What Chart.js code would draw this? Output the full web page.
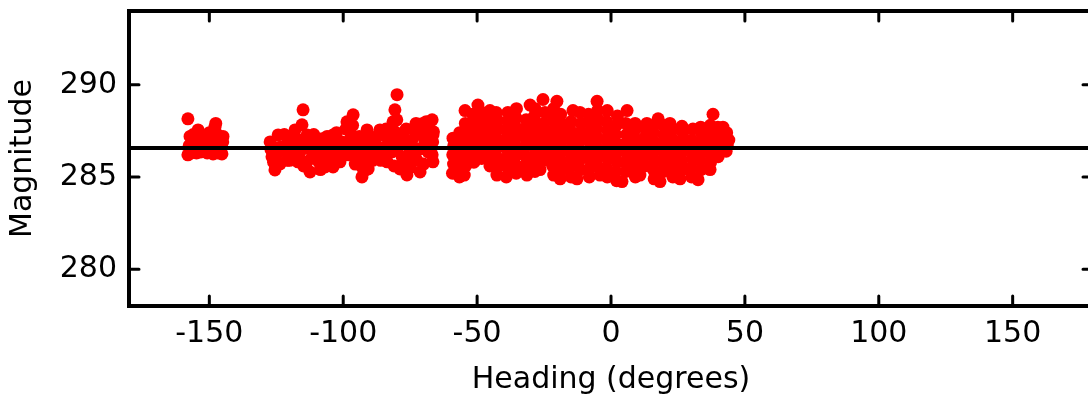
<!DOCTYPE html>
<html>
<head>
<meta charset="utf-8">
<script src="https://cdn.jsdelivr.net/npm/chart.js@4/dist/chart.umd.min.js"></script>
<style>
html,body{margin:0;padding:0;overflow:hidden;background:#fff;width:1088px;height:403px}
#wrap{position:absolute;left:0;top:0;width:1100px;height:403px}
</style>
</head>
<body>
<div id="wrap"><canvas id="c" width="1100" height="403"></canvas></div>
<script>
// ---- data ----
const headingTicks = [-150, -100, -50, 0, 50, 100, 150];
const magnitudeTicks = [280, 285, 290];
const meanMagnitude = 286.57;

// cluster near -150 deg
const headingsA = [-158.0,-157.2,-158.0,-154.2,-153.5,-150.9,-148.6,-147.9,-144.9,-145.3,-155.3,-149.7,-146.0,-147.6,-152.0,-156.0,
  -157.5,-156.0,-154.5,-153.0,-151.5,-150.0,-148.5,-147.0,-145.5,-156.8,-154.8,-152.8,-150.8,-148.8,-146.8,-145.0];
const magnitudesA = [288.15,287.2,286.2,287.55,286.35,287.2,286.25,287.7,287.2,286.25,286.8,286.75,286.75,287.9,286.9,286.4,
  286.7,287.3,286.9,287.1,286.6,287.4,286.9,287.3,286.7,286.3,286.3,286.4,286.3,287.2,286.3,286.9];

// cluster near -125 deg
const headingsB = [-127.3,-126.6,-125.5,-124.3,-123.6,-122.9,-120.6,-119.1,-118.0,-116.9,-116.1,-127.0,-125.0,-126.0,-124.0,-122.0,-121.0];
const magnitudesB = [286.9,286.09,285.38,287.28,285.71,286.63,286.9,286.36,287.55,285.82,287.01,286.5,286.2,285.8,286.6,287.3,285.9];

// scattered points -116 .. -66 deg
const headingsC = [-115.0,-115.4,-113.5,-112.4,-112.4,-113.5,-107.9,-106.8,-103.8,-103.8,-104.9,-98.6,-96.3,-91.1,-97.5,-93.0,-90.7,-94.5,-90.0,
  -79.9,-80.7,-81.4,-85.1,-85.5,-83.6,-78.8,-76.2,-77.7,-73.9,-70.6,-66.8,-66.5,-71.3,-66.8,-75.1,-71.3,
  -88.1,-87.0,-86.3,-84.4,-82.5,-81.8,-80.7,-79.5,-78.0,-76.9,-75.8,-74.3,-73.2,-72.1,-69.5,-68.3,-67.6,-66.3,-66.5,
  -119.9,-118.0,-116.1,-114.3,-111.6,-110.5,-109.4,-106.8,-105.7,-103.1,-101.9,-101.2,-99.3,-97.5,-95.6,-93.7,-91.9,-93.0,
  -121.5,-120.0,-117.5,-114.8,-113.0,-111.0,-109.0,-108.0,-106.0,-104.5,-102.5,-100.5,-108.5,
  -99.0,-98.0,-96.5,-95.5,-94.0,-92.5,-91.5,-90.0,-89.0,
  -87.5,-86.0,-84.0,-83.0,-81.0,-80.0,-79.0,-77.5,-76.5,-75.0,-74.0,-72.5,-71.0,-70.0,-68.5,-67.2,-66.6,-69.0,-72.8];
const magnitudesC = [288.64,287.83,287.28,286.52,285.27,285.82,287.07,285.54,287.28,285.54,286.25,287.99,288.37,287.55,287.01,285.0,285.43,286.2,286.47,
  289.46,288.64,287.99,287.28,286.09,285.82,285.43,285.11,287.17,287.61,287.88,288.1,287.28,285.27,286.2,286.36,286.52,
  286.9,286.36,287.55,286.63,287.01,286.36,287.45,286.63,286.09,286.9,285.82,287.01,286.09,287.34,286.9,286.36,287.55,287.45,285.82,
  287.17,286.63,286.36,286.9,286.09,286.9,286.36,286.63,286.09,286.9,286.36,285.82,286.63,287.45,286.63,286.9,286.09,285.54,
  286.4,285.9,287.0,285.6,286.7,287.3,285.8,286.6,287.2,285.9,287.4,286.9,285.4,
  287.6,286.2,287.8,285.7,287.2,286.6,285.4,287.1,285.9,
  287.2,285.9,287.6,286.3,285.6,288.1,287.1,285.9,287.6,285.5,286.6,285.9,287.3,285.7,287.0,286.6,286.9,288.0,287.9];

// dense block -59 .. 44 deg
const headingsD = [
  -59.2,-58.8,-59.1,-58.7,-59.0,
  -56.6,-57.0,-56.7,-57.1,-56.8,-56.5,
  -54.8,-54.3,-54.6,-54.2,-54.7,-54.4,-54.5,
  -51.2,-51.7,-51.4,-51.8,-51.3,-51.6,
  -48.3,-48.7,-48.4,-48.8,-48.5,-48.2,-49.7,
  -45.2,-45.7,-45.4,-45.8,-45.3,-45.6,-45.2,
  -42.6,-42.3,-42.8,-42.4,-42.7,-42.2,-42.5,-42.9,
  -39.1,-38.7,-39.3,-38.8,-39.2,-38.9,-38.6,-38.5,
  -35.4,-35.8,-35.3,-35.7,-35.2,-35.6,-35.5,-35.3,
  -31.4,-32.2,-31.8,-32.3,-31.9,-32.1,-31.7,-30.2,
  -28.4,-28.8,-28.3,-28.7,-28.5,-28.2,-28.6,-28.4,
  -26.5,-25.2,-24.8,-25.3,-24.9,-25.1,-24.7,-25.4,
  -21.4,-21.8,-21.3,-21.7,-21.5,-21.2,-21.6,-21.4,
  -19.0,-18.4,-18.7,-18.3,-18.6,-18.2,-18.5,-18.8,-20.2,
  -14.9,-15.3,-14.8,-15.2,-14.7,-15.1,-14.9,-14.2,
  -12.7,-11.4,-11.8,-11.3,-11.7,-11.5,-11.2,-11.6,
  -8.1,-7.8,-8.3,-7.9,-8.2,-7.7,-8.0,-8.4,
  -4.1,-5.1,-4.8,-5.2,-4.9,-5.3,-4.7,-5.0,-5.2,
  -1.4,-1.8,-1.3,-1.7,-1.5,-1.2,-1.6,-1.4,
  2.1,1.8,2.3,1.9,2.2,1.7,2.0,2.4,
  4.1,5.6,5.3,5.7,5.4,5.8,5.5,6.0,
  9.1,8.8,9.3,8.9,9.2,8.7,9.0,
  10.8,12.6,12.3,12.7,12.4,12.8,13.4,
  16.1,15.8,16.3,15.9,16.2,15.7,16.0,17.6,
  18.3,19.6,19.3,19.7,19.4,19.8,19.5,
  23.1,22.8,23.3,22.9,23.2,22.7,22.0,
  25.8,26.6,26.3,26.7,26.4,26.8,26.5,
  30.1,29.8,30.3,29.9,30.2,30.6,
  32.5,33.6,33.3,33.7,33.4,33.8,33.5,
  37.0,37.2,36.8,37.3,36.9,37.1,38.1,
  40.0,40.2,39.8,40.3,39.9,41.8,
  43.0,43.4,44.0,43.2];
const magnitudesD = [
  285.2,285.7,286.2,286.7,287.1,
  285.0,285.5,286.0,286.5,287.0,287.4,
  285.1,285.6,286.2,286.8,287.3,287.9,288.6,
  285.8,286.3,286.9,287.4,287.9,288.4,
  286.0,286.5,287.0,287.5,288.0,288.5,288.9,
  285.6,286.1,286.6,287.1,287.6,288.1,288.6,
  285.1,285.6,286.1,286.6,287.1,287.6,288.1,288.5,
  285.0,285.5,286.0,286.5,287.0,287.5,288.0,288.5,
  285.2,285.7,286.2,286.7,287.2,287.7,288.2,288.7,
  285.1,285.6,286.1,286.6,287.1,287.6,288.1,288.9,
  285.3,285.8,286.3,286.8,287.3,287.8,288.3,288.7,
  285.4,285.9,286.4,286.9,287.4,287.9,288.5,289.2,
  285.1,285.6,286.1,286.6,287.1,287.6,288.1,288.7,
  284.9,285.4,285.9,286.4,286.9,287.4,287.9,288.4,289.1,
  285.0,285.5,286.0,286.5,287.0,287.5,288.0,288.6,
  284.9,285.4,285.9,286.4,286.9,287.4,287.9,288.5,
  285.0,285.5,286.0,286.5,287.0,287.5,288.0,288.4,
  285.1,285.6,286.1,286.6,287.1,287.6,288.1,288.6,289.1,
  285.0,285.5,286.0,286.5,287.0,287.5,288.0,288.6,
  284.8,285.3,285.8,286.3,286.8,287.3,287.8,288.3,
  284.75,285.3,285.8,286.3,286.8,287.3,287.9,288.6,
  285.0,285.5,286.0,286.5,287.0,287.5,287.9,
  285.1,285.6,286.1,286.6,287.1,287.6,287.9,
  284.9,285.4,285.9,286.4,286.9,287.4,287.8,288.15,
  284.75,285.3,285.8,286.3,286.8,287.3,287.8,
  285.0,285.5,286.0,286.5,287.0,287.5,287.9,
  284.9,285.4,285.9,286.4,286.9,287.4,287.75,
  285.0,285.5,286.0,286.5,287.0,287.6,
  284.85,285.4,285.9,286.4,286.9,287.4,287.7,
  285.4,285.8,286.3,286.8,287.3,287.8,288.4,
  286.1,286.5,286.9,287.3,287.7,287.7,
  286.4,286.7,287.0,287.4];

// ---- build chart ----
function toPoints(xs, ys) { return xs.map((x, i) => ({x: x, y: ys[i]})); }
const points = [].concat(
  toPoints(headingsA, magnitudesA),
  toPoints(headingsB, magnitudesB),
  toPoints(headingsC, magnitudesC),
  toPoints(headingsD, magnitudesD));
const meanLine = [{x: -180, y: meanMagnitude}, {x: 180, y: meanMagnitude}];

const FONT = {family: "'DejaVu Sans', sans-serif", size: 30, weight: 'normal'};

const framePlugin = {
  id: 'frame',
  afterDraw(chart) {
    const {ctx, chartArea: a, scales: {x, y}} = chart;
    ctx.save();
    ctx.strokeStyle = '#000';
    ctx.lineCap = 'round';
    ctx.lineWidth = 3;
    ctx.beginPath();
    headingTicks.forEach(v => {
      const px = x.getPixelForValue(v);
      ctx.moveTo(px, a.bottom); ctx.lineTo(px, a.bottom - 10);
      ctx.moveTo(px, a.top); ctx.lineTo(px, a.top + 10);
    });
    magnitudeTicks.forEach(v => {
      const py = y.getPixelForValue(v);
      ctx.moveTo(a.left, py); ctx.lineTo(a.left + 10, py);
      ctx.moveTo(a.right, py); ctx.lineTo(a.right - 10, py);
    });
    ctx.stroke();
    ctx.lineCap = 'butt';
    ctx.lineWidth = 4;
    ctx.strokeRect(a.left, a.top, a.right - a.left, a.bottom - a.top);
    ctx.restore();
  }
};

new Chart(document.getElementById('c'), {
  type: 'scatter',
  data: {
    datasets: [
      {type: 'line', data: meanLine, borderColor: '#000', borderWidth: 4, pointRadius: 0, order: 0, fill: false},
      {type: 'scatter', data: points, backgroundColor: '#ff0000', borderWidth: 0, pointRadius: 6.5, pointHoverRadius: 6.5, order: 1}
    ]
  },
  options: {
    responsive: false,
    devicePixelRatio: 1,
    animation: false,
    events: [],
    layout: {padding: {left: 0, top: 11, right: 7, bottom: 0}},
    plugins: {legend: {display: false}, tooltip: {enabled: false}},
    scales: {
      x: {
        type: 'linear', min: -180, max: 180,
        grid: {display: false, drawTicks: false},
        border: {display: false},
        afterBuildTicks: s => { s.ticks = headingTicks.map(v => ({value: v})); },
        afterFit: s => { s.height = 97; s.paddingLeft = 0; s.paddingRight = 0; },
        ticks: {autoSkip: false, maxRotation: 0, padding: 10, color: '#000', font: FONT},
        title: {display: true, text: 'Heading (degrees)', color: '#000', font: FONT, padding: {top: 0, bottom: 5}}
      },
      y: {
        type: 'linear', min: 278, max: 294,
        grid: {display: false, drawTicks: false},
        border: {display: false},
        afterBuildTicks: s => { s.ticks = magnitudeTicks.map(v => ({value: v})); },
        afterFit: s => { s.width = 129; s.paddingTop = 0; s.paddingBottom = 0; },
        ticks: {padding: 12, color: '#000', font: FONT},
        title: {display: true, text: 'Magnitude', color: '#000', font: FONT, padding: {top: 5, bottom: 0}}
      }
    }
  },
  plugins: [framePlugin]
});
</script>
</body>
</html>
